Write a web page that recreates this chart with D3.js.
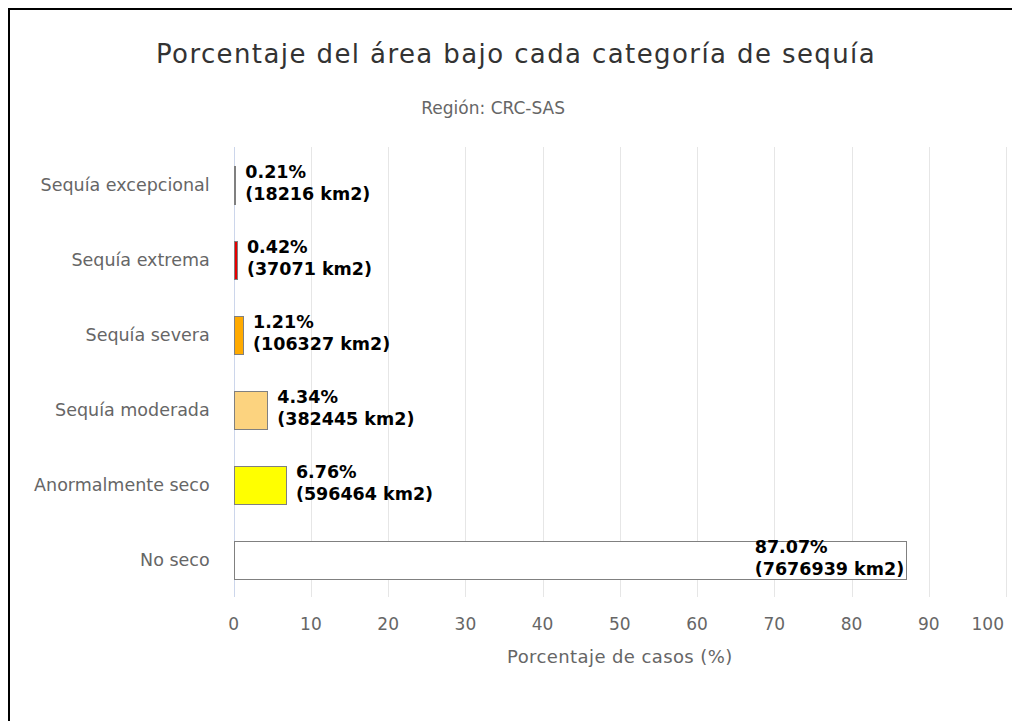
<!DOCTYPE html>
<html>
<head>
<meta charset="utf-8">
<script src="https://cdn.jsdelivr.net/npm/d3@7"></script>
<style>
  html, body { margin: 0; padding: 0; background: #fff; overflow: hidden; }
  svg { display: block; font-family: "DejaVu Sans", sans-serif; }
</style>
</head>
<body>
<div id="chart"></div>
<script>
// Values
const categories = ["Sequía excepcional", "Sequía extrema", "Sequía severa",
                    "Sequía moderada", "Anormalmente seco", "No seco"];
const percents = [0.21, 0.42, 1.21, 4.34, 6.76, 87.07];
const areasKm2 = [18216, 37071, 106327, 382445, 596464, 7676939];
const barColors = ["#730000", "#e60000", "#ffaa00", "#fcd37f", "#ffff00", "#ffffff"];
const xTicks = [0, 10, 20, 30, 40, 50, 60, 70, 80, 90, 100];

const titleText = "Porcentaje del área bajo cada categoría de sequía";
const subtitleText = "Región: CRC-SAS";
const xAxisTitle = "Porcentaje de casos (%)";

const width = 1012, height = 721;
const plot = { left: 233.7, right: 1006, top: 147, bottom: 597 };

const svg = d3.select("#chart").append("svg")
    .attr("width", width)
    .attr("height", height);

// white page, then the outer frame: only its top and left edges fall inside the window
svg.append("rect")
    .attr("width", width).attr("height", height)
    .attr("fill", "#fff");
svg.append("path")
    .attr("d", `M9,${height} V9 H${width + 20}`)
    .attr("fill", "none")
    .attr("stroke", "#000")
    .attr("stroke-width", 2);

const x = d3.scaleLinear().domain([0, 100]).range([plot.left, plot.right]);
const y = d3.scaleBand().domain(categories)
    .range([plot.top, plot.bottom])
    .paddingInner(0.5).paddingOuter(0.25);

// title + subtitle
svg.append("text")
    .attr("x", 516).attr("y", 63)
    .attr("text-anchor", "middle")
    .attr("font-size", 26).attr("letter-spacing", 1.4)
    .attr("fill", "#333")
    .text(titleText);

svg.append("text")
    .attr("x", 565).attr("y", 114)
    .attr("text-anchor", "end")
    .attr("font-size", 17)
    .attr("fill", "#666")
    .text(subtitleText);

// vertical grid
svg.append("g").selectAll("line")
    .data(xTicks.filter(d => d > 0))
    .enter().append("line")
    .attr("x1", d => Math.round(x(d)) + 0.5)
    .attr("x2", d => Math.round(x(d)) + 0.5)
    .attr("y1", plot.top).attr("y2", plot.bottom)
    .attr("stroke", "#e6e6e6");

// category axis line
svg.append("line")
    .attr("x1", Math.round(x(0)) + 0.5).attr("x2", Math.round(x(0)) + 0.5)
    .attr("y1", plot.top).attr("y2", plot.bottom)
    .attr("stroke", "#ccd6eb");

// x tick labels (last one pulled inside the window)
svg.append("g").selectAll("text")
    .data(xTicks)
    .enter().append("text")
    .attr("x", d => x(d) + 16 > width - 8 ? width - 8 : x(d))
    .attr("y", 630)
    .attr("text-anchor", d => x(d) + 16 > width - 8 ? "end" : "middle")
    .attr("font-size", 17)
    .attr("fill", "#666")
    .text(d => d);

svg.append("text")
    .attr("x", (plot.left + plot.right) / 2).attr("y", 663)
    .attr("text-anchor", "middle")
    .attr("font-size", 18).attr("letter-spacing", 0.4)
    .attr("fill", "#666")
    .text(xAxisTitle);

// category labels
svg.append("g").selectAll("text")
    .data(categories)
    .enter().append("text")
    .attr("x", plot.left - 24)
    .attr("y", d => y(d) + y.bandwidth() / 2 + 6)
    .attr("text-anchor", "end")
    .attr("font-size", 17.5)
    .attr("fill", "#666")
    .text(d => d);

// bars, snapped to whole pixels like the original
const x0 = Math.round(x(0)) + 0.5;
svg.append("g").selectAll("rect")
    .data(categories)
    .enter().append("rect")
    .attr("x", x0)
    .attr("y", d => Math.round(y(d)) + 0.5)
    .attr("width", (d, i) => Math.max(1, Math.floor(x(percents[i]) - x(0))))
    .attr("height", Math.round(y.bandwidth()))
    .attr("fill", (d, i) => barColors[i])
    .attr("stroke", "#808080")
    .attr("stroke-width", 1);

// data labels: two lines, pushed back inside the bar when they'd overflow
const labels = svg.append("g").selectAll("text")
    .data(categories)
    .enter().append("text")
    .attr("font-size", 17.5)
    .attr("font-weight", "bold")
    .attr("fill", "#000")
    .attr("y", d => y(d) + y.bandwidth() / 2);

labels.append("tspan").attr("x", 0).attr("dy", -6.5).text((d, i) => percents[i].toFixed(2) + "%");
labels.append("tspan").attr("x", 0).attr("dy", 22).text((d, i) => "(" + areasKm2[i] + " km2)");

labels.each(function(d, i) {
    const w = this.getBBox().width;
    let lx = x(percents[i]) + 10;
    if (lx + w > plot.right) lx = x(percents[i]) - 2 - w;
    d3.select(this).selectAll("tspan").attr("x", lx);
});
</script>
</body>
</html>
